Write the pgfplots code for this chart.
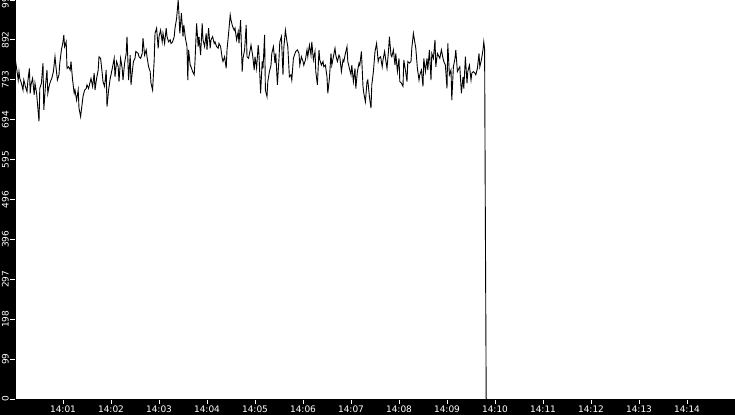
\documentclass[border=0pt]{standalone}
\usepackage{pgfplots}
\pgfplotsset{compat=1.18}
\usepackage{fontspec}
\setmainfont{DejaVu Sans}
\begin{document}
\begin{tikzpicture}
\path[use as bounding box] (-15bp,-16bp) rectangle (720bp,399bp);
\fill[black] (-15bp,-16bp) rectangle (720bp,0bp);
\fill[black] (-15bp,-16bp) rectangle (0bp,399bp);
\begin{axis}[
  at={(0,0)}, anchor=south west,
  scale only axis, width=720bp, height=399bp,
  xmin=0, xmax=900, ymin=0, ymax=992,
  axis x line=bottom, axis y line=left,
  axis line style={-, draw=black},
  tick align=outside, major tick length=5bp,
  tick style={white, line width=0.8bp},
  xtick={60,120,180,240,300,360,420,480,540,600,660,720,780,840},
  xticklabels={14:01,14:02,14:03,14:04,14:05,14:06,14:07,14:08,14:09,14:10,14:11,14:12,14:13,14:14},
  ytick={0,99.2,198.4,297.6,396.8,496,595.2,694.4,793.6,892.8,992},
  yticklabels={0,99,198,297,396,496,595,694,793,892,992},
  xticklabel style={font=\fontsize{9bp}{10bp}\selectfont, text=white, inner sep=0pt, anchor=north, yshift=-2bp},
  yticklabel style={font=\fontsize{9bp}{10bp}\selectfont, text=white, inner sep=0pt, xshift=-1bp, rotate=90, anchor=south},
]
\addplot[black, line width=0.9bp] coordinates {
(0,851)(2,822)(4,793)(5,814)(6,797)(8,785)(10,768)(11,793)(13,777)(15,764)(16,789)(18,822)(19,760)(20,781)(22,797)(24,756)(25,785)(27,760)(29,714)(30,690)(31,772)(33,785)(35,835)(36,719)(38,777)(40,818)(41,760)(43,781)(45,793)(46,797)(48,814)(50,851)(51,830)(53,793)(55,806)(56,835)(58,868)(60,888)(61,905)(62,876)(64,888)(65,822)(67,826)(69,818)(70,839)(72,793)(74,760)(75,768)(77,743)(79,768)(80,723)(82,702)(84,735)(85,752)(87,768)(89,772)(90,781)(92,772)(94,789)(95,797)(97,777)(99,810)(100,768)(102,797)(104,818)(105,851)(107,847)(109,810)(110,789)(112,777)(114,818)(115,727)(117,768)(119,797)(120,806)(122,826)(124,847)(125,801)(127,839)(129,826)(130,789)(132,847)(134,822)(135,793)(137,835)(139,859)(140,901)(142,793)(144,855)(145,781)(146,801)(148,839)(150,847)(151,864)
(154,859)(155,851)(157,847)(159,859)(160,897)(162,855)(164,868)(165,851)(167,826)(169,814)(170,785)(172,768)(174,843)(175,909)(177,922)(179,872)(180,901)(182,917)(184,888)(185,909)(187,884)(189,922)(190,901)(192,888)(194,893)(195,884)(197,888)(199,901)(200,922)(202,946)(204,992)(205,955)(206,909)(208,959)(210,901)(211,930)(213,897)(215,876)(216,793)(217,868)(219,830)(220,826)(222,814)(224,806)(225,839)(227,934)(229,876)(230,901)(232,855)(234,934)(235,893)(237,876)(239,909)(240,868)(242,922)(244,872)(245,893)(247,901)(249,884)(250,888)(252,876)(254,872)(255,884)(257,876)(259,847)(260,839)(262,851)(264,822)(265,868)(267,909)(269,955)(270,942)(272,926)(274,917)(275,922)(277,893)(279,913)(280,884)(282,942)(284,814)(285,847)(287,868)(289,930)(290,851)(292,847)(294,868)(295,880)(297,855)(299,818)
(300,851)(302,822)(304,880)(305,855)(307,760)(309,839)(310,822)(312,905)(313,768)(315,752)(316,789)(318,814)(320,830)(321,859)(323,876)(325,835)(326,859)(328,781)(330,847)(331,888)(333,901)(335,806)(336,872)(338,917)(340,888)(341,876)(343,801)(345,806)(346,793)(348,847)(350,859)(351,864)(353,868)(355,859)(356,830)(358,851)(360,839)(361,830)(363,843)(365,868)(366,851)(368,880)(370,855)(371,888)(373,843)(375,864)(376,814)(378,781)(380,868)(381,843)(383,830)(385,839)(386,826)(388,830)(390,801)(391,760)(393,797)(395,859)(396,830)(398,851)(400,872)(401,855)(403,839)(405,855)(406,851)(408,814)(410,843)(411,839)(413,859)(415,876)(416,839)(418,822)(420,806)(421,830)(423,789)(425,822)(426,772)(428,814)(430,835)(431,830)(433,864)(435,777)(436,760)(438,739)(440,789)(441,793)(443,752)(445,723)(446,781)(448,814)(450,864)
(451,874)(452,884)(454,839)(455,847)(457,851)(459,826)(460,843)(462,864)(464,835)(465,822)(467,868)(468,901)(470,855)(471,851)(473,868)(475,830)(476,859)(478,814)(480,847)(481,789)(483,785)(485,777)(486,843)(488,818)(490,789)(491,839)(493,835)(495,839)(496,872)(498,909)(500,884)(501,872)(503,822)(505,793)(506,806)(508,818)(510,777)(511,847)(513,814)(515,847)(516,818)(518,868)(520,793)(521,859)(523,847)(525,893)(526,826)(528,859)(530,851)(531,847)(533,868)(535,847)(536,839)(538,830)(540,772)(541,884)(543,806)(545,818)(546,743)(548,826)(550,847)(551,868)(553,814)(555,822)(556,826)(558,760)(560,801)(561,772)(563,851)(565,785)(566,814)(568,830)(570,793)(571,810)(573,814)(575,810)(576,806)(578,822)(580,859)(581,826)(583,843)(585,868)(586,888)(587,870)(588,420)(589,0)(590,0)
};
\end{axis}
\end{tikzpicture}
\end{document}
